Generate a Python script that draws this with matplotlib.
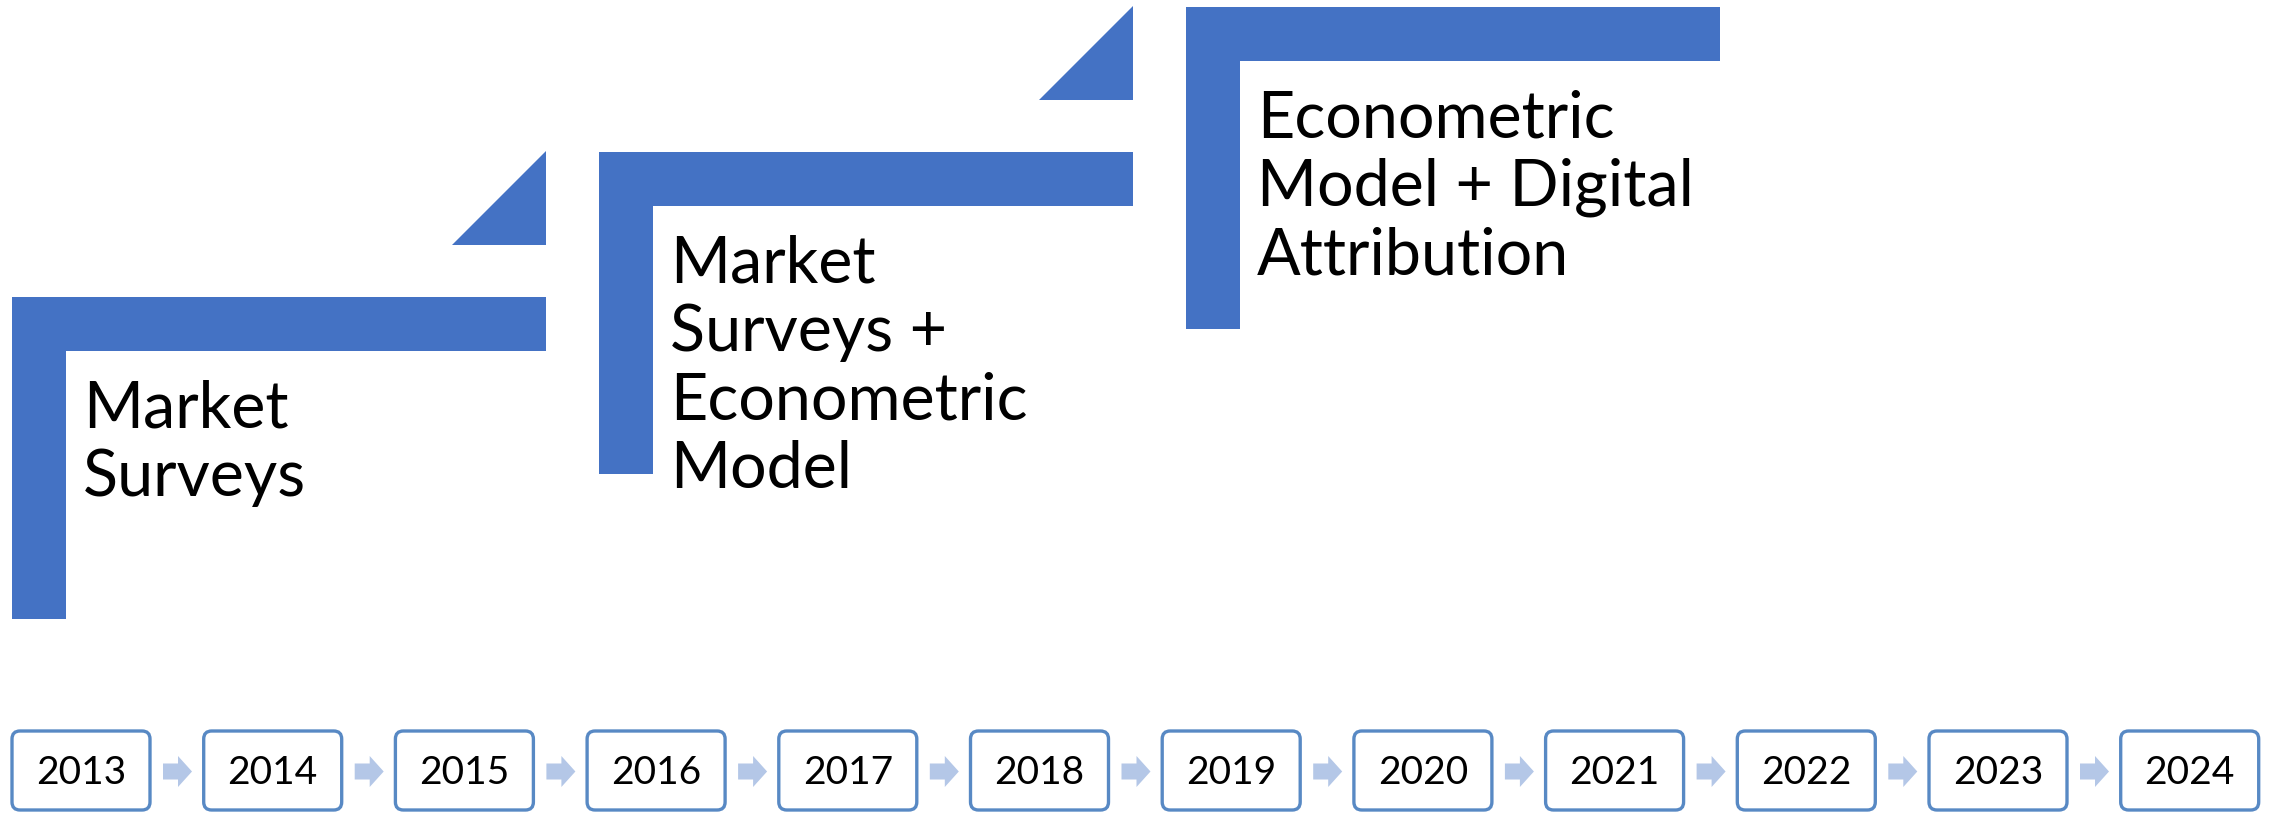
import matplotlib
matplotlib.use("Agg")
import matplotlib.pyplot as plt
from matplotlib.patches import Rectangle, Polygon, FancyBboxPatch

years = ["2013", "2014", "2015", "2016", "2017", "2018",
         "2019", "2020", "2021", "2022", "2023", "2024"]
stages = ["Market\nSurveys",
          "Market\nSurveys +\nEconometric\nModel",
          "Econometric\nModel + Digital\nAttribution"]

W, H = 2269, 813
blue = "#4472C4"
box_edge = "#5889C4"
arrow_col = "#B4C7E7"

plt.rcParams['font.family'] = ['Lato', 'DejaVu Sans']

fig = plt.figure(figsize=(W / 100, H / 100), dpi=100)
ax = fig.add_axes([0, 0, 1, 1])
ax.set_xlim(0, W)
ax.set_ylim(H, 0)
ax.axis("off")

# staircase of stages (units are pixels, y downwards)
st_x0, st_dx = 12, 587
st_y0, st_dy = 297, 145
bar_w, bar_t, bar_h = 534, 54, 322
for k, label in enumerate(stages):
    left = st_x0 + k * st_dx
    top = st_y0 - k * st_dy
    ax.add_patch(Rectangle((left, top), bar_w, bar_t, fc=blue, ec="none"))
    ax.add_patch(Rectangle((left, top), bar_t, bar_h, fc=blue, ec="none"))
    if k < len(stages) - 1:
        r = left + bar_w
        ax.add_patch(Polygon([(r - 94, top - 52), (r, top - 52), (r, top - 146)],
                             closed=True, fc=blue, ec="none"))
    for j, line in enumerate(label.split("\n")):
        ax.text(left + 71, top + 130 + j * 68.5, line, fontsize=46.5,
                ha="left", va="baseline", color="black")

# timeline of years
bx0, bdx = 12, 191.7
bw, by, bh = 138, 731, 79
for i, yr in enumerate(years):
    x = bx0 + i * bdx
    ax.add_patch(FancyBboxPatch((x, by), bw, bh,
                                boxstyle="round,pad=0,rounding_size=8",
                                fc="white", ec=box_edge, lw=2.4))
    ax.text(x + bw / 2, by + 53, yr, fontsize=28, ha="center",
            va="baseline", color="black")
    if i < len(years) - 1:
        a = x + bw + 13
        cy = by + bh / 2 + 1
        ax.add_patch(Polygon([(a, cy - 8), (a + 15, cy - 8), (a + 15, cy - 15.5),
                              (a + 29, cy), (a + 15, cy + 15.5), (a + 15, cy + 8),
                              (a, cy + 8)], closed=True, fc=arrow_col, ec="none"))

fig.savefig("out.png", dpi=100, facecolor="white")
